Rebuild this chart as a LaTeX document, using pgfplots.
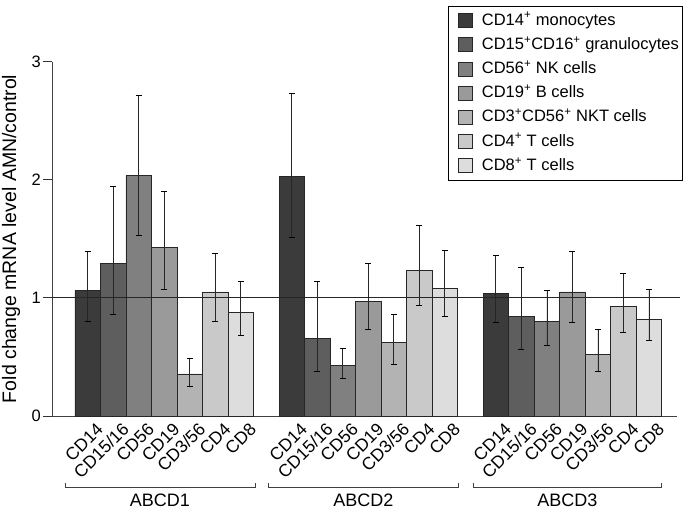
\documentclass[border=0pt]{standalone}
\usepackage{fontspec}
\setmainfont{Liberation Sans}
\usepackage{pgfplots}
\usepackage{pgfplotstable}
\pgfplotsset{compat=1.18}
\newcommand{\fs}{\fontsize{16.5bp}{19bp}\selectfont}
\newcommand{\fx}{\fontsize{17.5bp}{20bp}\selectfont}
\newcommand{\fy}{\fontsize{19.5bp}{22bp}\selectfont}
\newcommand{\fg}{\fontsize{18bp}{21bp}\selectfont}
\definecolor{cA}{HTML}{3B3B3B}
\definecolor{cB}{HTML}{5E5E5E}
\definecolor{cC}{HTML}{808080}
\definecolor{cD}{HTML}{9A9A9A}
\definecolor{cE}{HTML}{B3B3B3}
\definecolor{cF}{HTML}{C9C9C9}
\definecolor{cG}{HTML}{DDDDDD}
\pgfplotstableread{
x y ep em
0 1.06 0.33 0.26
8 2.03 0.70 0.52
16 1.04 0.32 0.25
}\tA
\pgfplotstableread{
x y ep em
1 1.29 0.65 0.43
9 0.66 0.48 0.28
17 0.84 0.42 0.28
}\tB
\pgfplotstableread{
x y ep em
2 2.04 0.67 0.51
10 0.43 0.14 0.11
18 0.80 0.26 0.20
}\tC
\pgfplotstableread{
x y ep em
3 1.43 0.47 0.36
11 0.97 0.32 0.24
19 1.05 0.34 0.26
}\tD
\pgfplotstableread{
x y ep em
4 0.356 0.134 0.106
12 0.62 0.24 0.18
20 0.52 0.21 0.14
}\tE
\pgfplotstableread{
x y ep em
5 1.05 0.33 0.25
13 1.23 0.38 0.29
21 0.93 0.28 0.22
}\tF
\pgfplotstableread{
x y ep em
6 0.88 0.26 0.20
14 1.08 0.32 0.24
22 0.82 0.25 0.18
}\tG
\begin{document}
\begin{tikzpicture}
\begin{axis}[
  name=ax,
  scale only axis, width=625bp, height=354.3bp,
  xmin=-1.4, xmax=23.1, ymin=0, ymax=3,
  clip=false,
  axis x line*=bottom, axis y line*=left,
  axis line style={-, black!75, line width=0.9bp},
  ytick={0,1,2,3},
  tick align=outside, major tick length=9bp,
  ytick style={black!80, line width=0.8bp},
  xtick={0,1,2,3,4,5,6,8,9,10,11,12,13,14,16,17,18,19,20,21,22},
  xticklabels={CD14,CD15/16,CD56,CD19,CD3/56,CD4,CD8,CD14,CD15/16,CD56,CD19,CD3/56,CD4,CD8,CD14,CD15/16,CD56,CD19,CD3/56,CD4,CD8},
  xtick style={draw=none},
  xticklabel style={rotate=45, anchor=north east, font=\fx, inner sep=1bp, xshift=9bp, yshift=-2bp},
  yticklabel style={font=\fs, inner sep=2bp},
  /pgf/number format/assume math mode=true,
  ylabel={Fold change mRNA level AMN/control},
  ylabel style={font=\fy, at={(axis description cs:-0.0656,0.5)}, anchor=center},
  legend style={font=\fs, at={(axis description cs:1.0096,1.158)}, anchor=north east,
    draw=black, line width=0.9bp, row sep=4.2bp, inner xsep=2bp, inner ysep=4.5bp,
    nodes={inner xsep=1.7bp, inner ysep=2bp, text height=12.5bp, text depth=3.5bp},
    cells={anchor=west}},
  legend image code/.code={\draw[#1, line width=0.8bp] (0bp,-7bp) rectangle (14bp,7bp);
    \path (-8bp,0bp) (21bp,0bp);},
  mybar/.style={ybar, bar width=25.5bp, bar shift=0pt, draw=black!85, line width=0.8bp,
    error bars/y dir=both, error bars/y explicit,
    error bars/error bar style={black!85, line width=0.8bp},
    error bars/error mark options={black, line width=0.9bp, mark size=3bp, rotate=90}},
]
\addplot[mybar, fill=cA] table[x=x, y=y, y error plus=ep, y error minus=em] {\tA};
\addlegendentry{CD14\textsuperscript{+} monocytes}
\addplot[mybar, fill=cB] table[x=x, y=y, y error plus=ep, y error minus=em] {\tB};
\addlegendentry{CD15\textsuperscript{+}CD16\textsuperscript{+} granulocytes}
\addplot[mybar, fill=cC] table[x=x, y=y, y error plus=ep, y error minus=em] {\tC};
\addlegendentry{CD56\textsuperscript{+} NK cells}
\addplot[mybar, fill=cD] table[x=x, y=y, y error plus=ep, y error minus=em] {\tD};
\addlegendentry{CD19\textsuperscript{+} B cells}
\addplot[mybar, fill=cE] table[x=x, y=y, y error plus=ep, y error minus=em] {\tE};
\addlegendentry{CD3\textsuperscript{+}CD56\textsuperscript{+} NKT cells}
\addplot[mybar, fill=cF] table[x=x, y=y, y error plus=ep, y error minus=em] {\tF};
\addlegendentry{CD4\textsuperscript{+} T cells}
\addplot[mybar, fill=cG] table[x=x, y=y, y error plus=ep, y error minus=em] {\tG};
\addlegendentry{CD8\textsuperscript{+} T cells}
\draw[black!85, line width=0.9bp] (axis cs:-1.4,1) -- (axis cs:23.2,1);
\draw[black!75, line width=0.8bp] (axis cs:-0.89,-0.567) |- (axis cs:6.56,-0.601) -- (axis cs:6.56,-0.567);
\draw[black!75, line width=0.8bp] (axis cs:7.1,-0.567) |- (axis cs:14.52,-0.601) -- (axis cs:14.52,-0.567);
\draw[black!75, line width=0.8bp] (axis cs:15.1,-0.567) |- (axis cs:22.5,-0.601) -- (axis cs:22.5,-0.567);
\node[font=\fg] at (axis cs:2.83,-0.711) {ABCD1};
\node[font=\fg] at (axis cs:10.81,-0.711) {ABCD2};
\node[font=\fg] at (axis cs:18.8,-0.711) {ABCD3};
\end{axis}
\pgfresetboundingbox
\path[use as bounding box] ([shift={(-52bp,-92bp)}]ax.south west) rectangle ([shift={(9bp,61.7bp)}]ax.north east);
\end{tikzpicture}
\end{document}
